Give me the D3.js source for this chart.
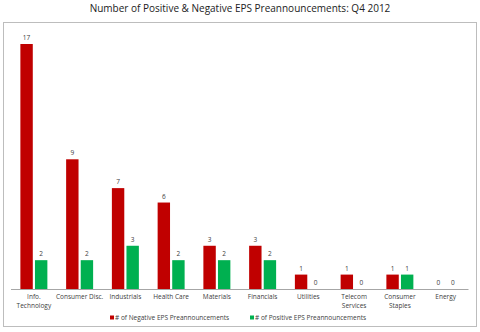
<!DOCTYPE html>
<html><head><meta charset="utf-8">
<script src="https://cdn.jsdelivr.net/npm/d3@7"></script>
<style>html,body{margin:0;padding:0;background:#fff;}svg{display:block;}</style>
</head><body>
<script>
const categories = ["Info.|Technology","Consumer Disc.","Industrials","Health Care","Materials","Financials","Utilities","Telecom|Services","Consumer|Staples","Energy"];
const negative = [17,9,7,6,3,3,1,1,1,0];
const positive = [2,2,3,2,2,2,0,0,1,0];
const seriesNames = ["# of Negative EPS Preannouncements","# of Positive EPS Preannouncements"];
const colors = ["#c00000","#00b050"];
const title = "Number of Positive & Negative EPS Preannouncements: Q4 2012";

const W=480,H=332;
const svg=d3.select("body").append("svg").attr("width",W).attr("height",H);
const font="'Open Sans', 'Liberation Sans', sans-serif";

svg.append("text").attr("x",240).attr("y",12).attr("text-anchor","middle")
  .attr("font-family",font).attr("font-size",10).attr("fill","#222").text(title);

svg.append("rect").attr("x",3.5).attr("y",22.5).attr("width",473).attr("height",304)
  .attr("fill","#fff").attr("stroke","#bdbdbd").attr("stroke-width",1);

const x=d3.scaleBand().domain(categories).range([11,468.5]).paddingInner(0.41).paddingOuter(0.205);
const xs=d3.scaleBand().domain([0,1]).range([0,x.bandwidth()]).paddingInner(0.15);
const y=d3.scaleLinear().domain([0,17]).range([289,44]);

const data=categories.map((c,i)=>({c,vals:[negative[i],positive[i]]}));
const g=svg.append("g");
const grp=g.selectAll("g.grp").data(data).join("g").attr("transform",d=>`translate(${x(d.c)},0)`);
grp.selectAll("rect").data(d=>d.vals.map((v,k)=>({v,k}))).join("rect")
  .attr("x",d=>xs(d.k)).attr("width",xs.bandwidth())
  .attr("y",d=>y(d.v)).attr("height",d=>y(0)-y(d.v)).attr("fill",d=>colors[d.k]);
grp.selectAll("text.val").data(d=>d.vals.map((v,k)=>({v,k}))).join("text").attr("class","val")
  .attr("x",d=>xs(d.k)+xs.bandwidth()/2).attr("y",d=>y(d.v)-4)
  .attr("text-anchor","middle").attr("font-family",font).attr("font-size",6.5).attr("fill","#404040")
  .text(d=>d.v);

const ax=d3.axisBottom(x).tickSize(0).tickPadding(0).tickFormat("");
const axg=svg.append("g").attr("transform","translate(0,289)").call(ax);
axg.select(".domain").attr("stroke","#a6a6a6").attr("d","M11,0.5H468.5");
axg.selectAll(".tick").each(function(d){
  const lines=d.split("|");
  const t=d3.select(this).append("text").attr("fill","#404040").attr("font-family",font).attr("font-size",6.5)
    .attr("text-anchor","middle");
  lines.forEach((l,i)=>t.append("tspan").attr("x",0).attr("y",10+i*9).text(l));
});

const leg=[{x:110,k:0},{x:250,k:1}];
leg.forEach(l=>{
  svg.append("rect").attr("x",l.x).attr("y",315.5).attr("width",4).attr("height",4).attr("fill",colors[l.k]);
  svg.append("text").attr("x",l.x+5).attr("y",320).attr("font-family",font).attr("font-size",6.5)
    .attr("fill","#404040").text(seriesNames[l.k]);
});
</script>
</body></html>
